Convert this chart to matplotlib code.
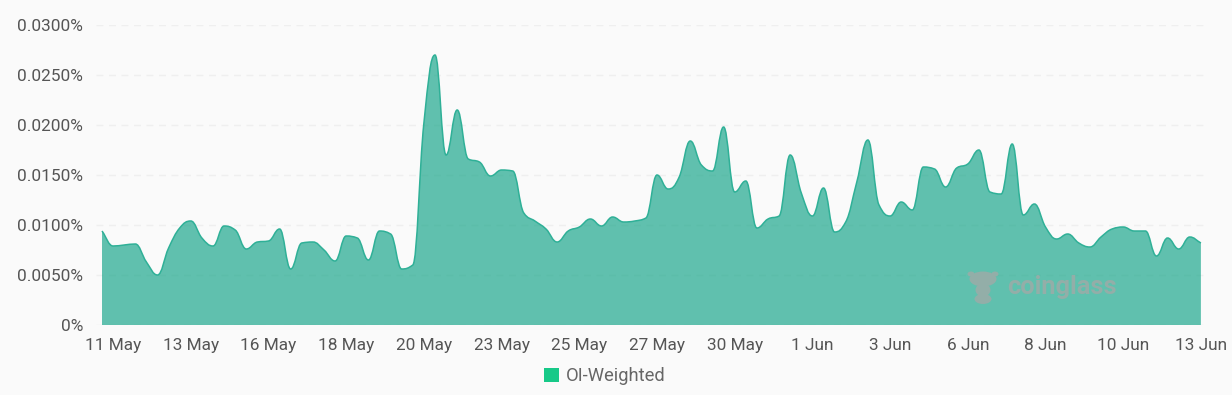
import numpy as np
import matplotlib
matplotlib.use("Agg")
import matplotlib.pyplot as plt
from matplotlib.path import Path
from matplotlib.patches import PathPatch, Patch, Ellipse

series_name = "OI-Weighted"
oi_weighted = [
    0.0094, 0.0079, 0.0080, 0.0081, 0.0063, 0.0050, 0.0077, 0.0097, 0.0104, 0.0087,
    0.0079, 0.0099, 0.0095, 0.0076, 0.0083, 0.0084, 0.0096, 0.0056, 0.0082, 0.0083,
    0.0075, 0.0064, 0.0089, 0.0087, 0.0065, 0.0094, 0.0091, 0.0056, 0.0060, 0.0202,
    0.0270, 0.0170, 0.0215, 0.0166, 0.0163, 0.0149, 0.0155, 0.0154, 0.0112, 0.0104,
    0.0096, 0.0083, 0.0094, 0.0098, 0.0106, 0.0099, 0.0108, 0.0103, 0.0104, 0.0107,
    0.0150, 0.0136, 0.0148, 0.0184, 0.0160, 0.0154, 0.0198, 0.0133, 0.0144, 0.0097,
    0.0106, 0.0109, 0.0170, 0.0132, 0.0109, 0.0137, 0.0093, 0.0103, 0.0143, 0.0185,
    0.0120, 0.0109, 0.0123, 0.0115, 0.0158, 0.0156, 0.0138, 0.0157, 0.0161, 0.0175,
    0.0133, 0.0131, 0.0181, 0.0110, 0.0121, 0.0098, 0.0086, 0.0091, 0.0082, 0.0078,
    0.0088, 0.0096, 0.0098, 0.0094, 0.0094, 0.0069, 0.0087, 0.0076, 0.0088, 0.0082,
]
tick_labels = ["11 May", "13 May", "16 May", "18 May", "20 May", "23 May", "25 May", "27 May",
               "30 May", "1 Jun", "3 Jun", "6 Jun", "8 Jun", "10 Jun", "13 Jun"]
y_ticks = [0, 0.005, 0.01, 0.015, 0.02, 0.025, 0.03]
y_labels = ["0%", "0.0050%", "0.0100%", "0.0150%", "0.0200%", "0.0250%", "0.0300%"]

W, H = 1232, 395
BG = "#fafafa"
plt.rcParams["font.family"] = ["Roboto", "DejaVu Sans"]

fig = plt.figure(figsize=(W / 100, H / 100), dpi=100, facecolor=BG)
ax = fig.add_axes([96 / W, (H - 325) / H, (1207 - 96) / W, 300 / H], facecolor=BG)
ax.set_xlim(-6 / 11.1, 1105 / 11.1)
ax.set_ylim(0, 0.03)

y = np.array(oi_weighted)
x = np.arange(len(y), dtype=float)
slope = np.diff(y)
m = np.zeros_like(y)
for i in range(1, len(y) - 1):
    if slope[i - 1] * slope[i] > 0:
        m[i] = np.sign(slope[i]) * min((abs(slope[i - 1]) + abs(slope[i])) / 2,
                                       2.0 * min(abs(slope[i - 1]), abs(slope[i])))
m[0], m[-1] = slope[0], slope[-1]

H_LEN = 0.42
verts = [(x[0], y[0])]
codes = [Path.MOVETO]
for i in range(len(y) - 1):
    verts += [(x[i] + H_LEN, y[i] + m[i] * H_LEN), (x[i + 1] - H_LEN, y[i + 1] - m[i + 1] * H_LEN), (x[i + 1], y[i + 1])]
    codes += [Path.CURVE4] * 3
line_path = Path(verts, codes)
area_path = Path(verts + [(x[-1], 0), (x[0], 0), (x[0], y[0])], codes + [Path.LINETO, Path.LINETO, Path.LINETO])

ax.set_yticks(y_ticks, y_labels)
ax.set_xticks(x[1::7], tick_labels)
ax.grid(axis="y", color="#efefef", lw=1, dashes=(5, 4))
ax.set_axisbelow(True)
ax.add_patch(PathPatch(area_path, facecolor="#0da285", edgecolor="none", alpha=0.65, zorder=2))
ax.add_patch(PathPatch(line_path, facecolor="none", edgecolor="#2fb097", lw=1.1, zorder=3))
for s in ax.spines.values():
    s.set_visible(False)
ax.tick_params(axis="both", length=0, labelsize=12.4, labelcolor="#555555")
ax.tick_params(axis="y", pad=9.4)
ax.tick_params(axis="x", pad=9.5)

# watermark
def px(a, b):
    return a / W, (H - b) / H
wm = "#93aea8"
for cx, cy, w, h in [(983, 279, 27, 15), (983, 290, 15, 13), (983, 299, 17, 10), (971, 274, 7, 5), (995, 274, 7, 5)]:
    fig.add_artist(Ellipse(px(cx, cy), w / W, h / H, facecolor=wm, edgecolor="none", transform=fig.transFigure, zorder=5))
fig.text(*px(1007, 287), "coinglass", color=wm, fontsize=18.3, fontweight="bold", ha="left", va="center", zorder=5)

# legend
fig.legend(handles=[Patch(facecolor="#17c988", edgecolor="none", label=series_name)],
           loc="center", bbox_to_anchor=px(605, 376), frameon=False, handlelength=0.82, handleheight=0.82,
           handletextpad=0.4, fontsize=13.2, labelcolor="#666666", borderpad=0)

fig.savefig("out.png", dpi=100, facecolor=BG)
